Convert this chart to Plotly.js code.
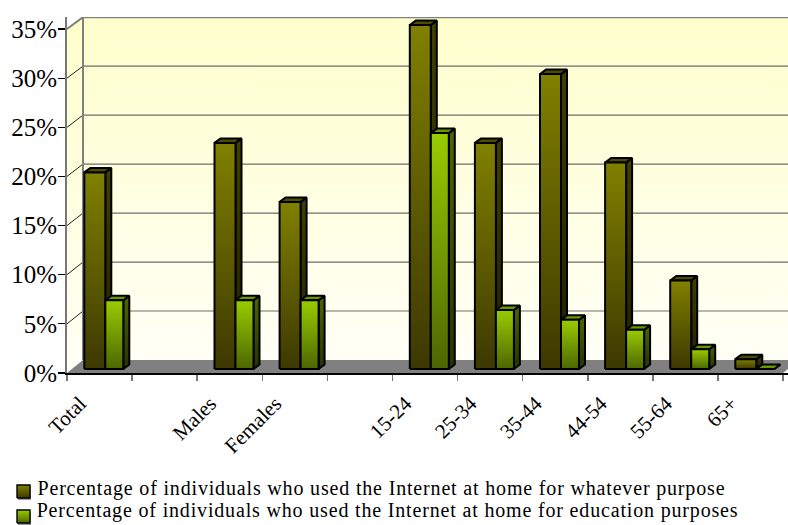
<!DOCTYPE html>
<html>
<head>
<meta charset="utf-8">
<script src="https://cdn.plot.ly/plotly-3.0.1.min.js"></script>
<style>
html,body{margin:0;padding:0;background:#fff}
#chart{width:788px;height:525px}
#chart .annotation-text{letter-spacing:.83px}
</style>
</head>
<body>
<div id="chart"></div>
<script>
// Internet use at home, by sex and age group
const categories = ['Total', '', 'Males', 'Females', '', '15-24', '25-34', '35-44', '44-54', '55-64', '65+'];
const anyPurpose = [20, null, 23, 17, null, 35, 23, 30, 21, 9, 1];
const education = [7, null, 7, 7, null, 24, 6, 5, 4, 2, 0];
const seriesNames = [
  'Percentage of individuals who used the Internet at home for whatever purpose',
  'Percentage of individuals who used the Internet at home for education purposes'
];
const percentTicks = [0, 5, 10, 15, 20, 25, 30, 35];

// Oblique projection of the box, in axis units
const PX_X = 65.1, PX_Y = 9.83;
const xMax = 721 / PX_X, yMax = 356 / PX_Y;
const wallDx = 16 / PX_X;
const backY = t => t + (13 - t * 1.2 / 35) / PX_Y;
const barDx = 6 / PX_X, barDy = 4.5 / PX_Y;
const barBase = 4 / PX_Y;
const firstOffset = 17.3 / PX_X, darkWidth = 21 / PX_X, lightWidth = 18 / PX_X;
const labelOffset = 0.2;

const serif = 'Liberation Serif, Times New Roman, serif';

function gradient(top, bottom, y0, y1) {
  return {type: 'vertical', start: y0, stop: y1, colorscale: [[0, bottom], [1, top]]};
}
function poly(xs, ys, opts) {
  return Object.assign({
    type: 'scatter', mode: 'lines', x: xs, y: ys, fill: 'toself',
    hoverinfo: 'skip', showlegend: false,
    line: {color: '#000', width: 2}
  }, opts);
}

const traces = [];

// Value-bearing bars sit underneath their shaded faces
function barTrace(values, offset, width, color, name) {
  return {
    type: 'bar', x: categories.map((_, i) => i), y: values, base: barBase,
    width: width, offset: offset, name: name, showlegend: false,
    marker: {color: color, line: {color: '#000', width: 2}}, hoverinfo: 'skip'
  };
}
traces.push(barTrace(anyPurpose, firstOffset, darkWidth, '#5c5600', seriesNames[0]));
traces.push(barTrace(education, firstOffset + darkWidth, lightWidth, '#739900', seriesNames[1]));

// Back wall, side wall and floor
const floorY = backY(0), ceilY = backY(35);
traces.push(poly([wallDx, xMax, xMax, wallDx, wallDx], [floorY, floorY, ceilY, ceilY, floorY],
  {line: {width: 0}, fillgradient: gradient('#ffffcc', '#fffff6', floorY, ceilY)}));
traces.push(poly([0, wallDx, wallDx, 0, 0], [0, floorY, ceilY, 35, 0],
  {line: {width: 0}, fillgradient: gradient('#ffffcc', '#fffff6', 0, 35)}));
traces.push(poly([0, wallDx, xMax, xMax, 11, 0], [0, floorY, floorY, 0.4, 0, 0],
  {line: {width: 0}, fillcolor: '#808080'}));

// Gridlines run along the back wall and step down the side wall
const gridX = [], gridY = [], slantX = [], slantY = [];
percentTicks.filter(t => t > 0 && t < 35).forEach(t => {
  gridX.push(wallDx, xMax, null); gridY.push(backY(t), backY(t), null);
});
percentTicks.filter(t => t > 0 && t < 35).forEach(t => {
  slantX.push(0, wallDx, null); slantY.push(t, backY(t), null);
});
traces.push({type: 'scatter', mode: 'lines', x: gridX, y: gridY, hoverinfo: 'skip', showlegend: false, line: {color: '#6e6e6e', width: 1.2}});
traces.push({type: 'scatter', mode: 'lines', x: slantX, y: slantY, hoverinfo: 'skip', showlegend: false, line: {color: '#222', width: 1}});
traces.push({type: 'scatter', mode: 'lines',
  x: [0, wallDx, xMax, null, wallDx, wallDx], y: [35, ceilY, ceilY, null, ceilY, floorY],
  hoverinfo: 'skip', showlegend: false, line: {color: '#808080', width: 2}});

// Pseudo-3D faces of one bar
function addBar(value, x0, w, pal) {
  if (value === null) return;
  const y0 = barBase, y1 = barBase + value, x1 = x0 + w;
  traces.push(poly([x1, x1 + barDx, x1 + barDx, x1, x1], [y0, y0 + barDy, y1 + barDy, y1, y0],
    {fillgradient: gradient(pal.sideTop, pal.sideBottom, y0, Math.max(y1 + barDy, y0 + 0.1))}));
  traces.push(poly([x0, x0 + barDx, x1 + barDx, x1, x0], [y1, y1 + barDy, y1 + barDy, y1, y1],
    {fillcolor: pal.cap}));
  traces.push(poly([x0, x1, x1, x0, x0], [y0, y0, y1, y1, y0],
    {fillgradient: gradient(pal.top, pal.bottom, y0, Math.max(y1, y0 + 0.1))}));
}
const darkPal = {top: '#808000', bottom: '#3d3800', sideTop: '#404000', sideBottom: '#201c00', cap: '#4d4d00'};
const lightPal = {top: '#99cc00', bottom: '#4d6600', sideTop: '#4d6600', sideBottom: '#263300', cap: '#669900'};
categories.forEach((_, i) => {
  addBar(anyPurpose[i], i + firstOffset, darkWidth, darkPal);
  addBar(education[i], i + firstOffset + darkWidth, lightWidth, lightPal);
});

// Key swatches live on a pixel-scaled helper subplot below the chart
const keyPal = [darkPal, lightPal];
[0, 1].forEach(k => {
  const y0 = 23 + k * 25, y1 = y0 - 13;
  traces.push(poly([18, 31, 31, 18, 18], [y0 + 2, y0 + 2, y1 + 2, y1 + 2, y0 + 2], {xaxis: 'x2', yaxis: 'y2', line: {width: 0}, fillcolor: '#999'}));
  traces.push(poly([17, 30, 30, 17, 17], [y0, y0, y1, y1, y0], {
    xaxis: 'x2', yaxis: 'y2', line: {color: '#000', width: 1.4},
    fillgradient: {type: 'vertical', start: y0, stop: y1, colorscale: [[0, keyPal[k].bottom], [1, keyPal[k].top]]}
  }));
});

const layout = {
  width: 788, height: 525,
  margin: {l: 0, r: 0, t: 17, b: 0},
  paper_bgcolor: '#fff', plot_bgcolor: '#fff',
  barmode: 'overlay', showlegend: false,
  font: {family: serif, color: '#000'},
  xaxis: {
    range: [0, xMax], domain: [67 / 788, 1], anchor: 'y',
    tickmode: 'array',
    tickvals: categories.map((c, i) => i + labelOffset).filter((_, i) => categories[i]),
    ticktext: categories.filter(c => c),
    tickangle: -45, ticks: '', ticklabelstandoff: 8, tickfont: {size: 21},
    showgrid: false, zeroline: false,
    showline: true, linecolor: '#000', linewidth: 2,
    minor: {tickmode: 'array', tickvals: categories.map((_, i) => i).concat([11]), ticks: 'outside', ticklen: 6, tickcolor: '#777', tickwidth: 1.5, showgrid: false}
  },
  yaxis: {
    range: [0, yMax], domain: [152 / 508, 1], anchor: 'x',
    tickmode: 'array', tickvals: percentTicks, ticktext: percentTicks.map(t => t + '%'),
    ticks: 'outside', ticklen: 7, tickcolor: '#000', tickwidth: 1.2,
    tickfont: {size: 25}, ticklabelstandoff: -4, showgrid: false, zeroline: false,
    showline: true, linecolor: '#777', linewidth: 2
  },
  xaxis2: {range: [0, 788], domain: [0, 1], anchor: 'y2', visible: false, fixedrange: true},
  yaxis2: {range: [50, 0], domain: [0, 50 / 508], anchor: 'x2', visible: false, fixedrange: true},
  annotations: seriesNames.map((name, k) => ({
    text: name, xref: 'paper', yref: 'paper', x: (k === 0 ? 381 : 387) / 788, y: (k === 0 ? 37 : 15) / 508,
    xanchor: 'center', yanchor: 'middle', showarrow: false,
    font: {size: 20, family: serif, color: '#000'}
  }))
};

Plotly.newPlot('chart', traces, layout, {displayModeBar: false, staticPlot: true});
</script>
</body>
</html>
